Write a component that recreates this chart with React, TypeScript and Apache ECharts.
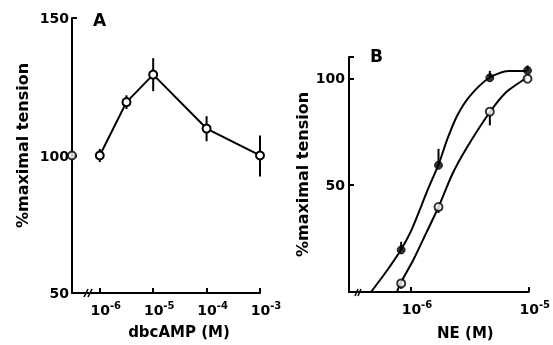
import React, { useEffect, useRef } from "react";
import * as echarts from "echarts";

// Panel A: dbcAMP, x = log10 concentration (M)
const aLogConc = [-6, -5.5, -5, -4, -3];
const aTension = [100, 119.4, 129.4, 109.8, 100];
const aErrUp = [2.4, 2.5, 6, 4.5, 7.3];
const aErrDown = [2.4, 2.5, 6, 4.6, 7.6];
const aControl = [[-6.52, 100]];

// Panel B: NE, x = log10 concentration (M)
const bLogConc = [-6.083, -5.766, -5.33, -5.01];
const bFilled = [19.7, 59.3, 100.3, 103.7];
const bFilledHi = [23.5, 67, 103.5, 106];
const bOpen = [4, 39.8, 84.4, 99.8];
const bOpenLo = [1.5, 37, 78, 99.8];

// fitted curves
const bFilledCurveX = [-6.339, -6.2, -6.086, -5.995, -5.857, -5.766, -5.692, -5.61, -5.5, -5.334, -5.17, -5.017];
const bFilledCurveY = [0, 10.3, 19.7, 29.1, 47.9, 59.6, 71.4, 82.3, 91.7, 100.3, 103.4, 103.4];
const bOpenCurveX = [-6.119, -6.09, -5.98, -5.898, -5.76, -5.65, -5.526, -5.334, -5.196, -5.017];
const bOpenCurveY = [0, 4, 15, 24.4, 40.5, 55, 67.5, 83.9, 93.3, 100.3];

const aTicks = [-6, -5, -4, -3];
const bTicks = [-6, -5];

const FONT = "DejaVu Sans";

const supLabel = (v: number) => `{b|10}{s|${Math.round(v)}}`;
const supRich = {
  b: { fontSize: 14, fontWeight: "bold", color: "#000", fontFamily: FONT },
  s: { fontSize: 10, fontWeight: "bold", color: "#000", fontFamily: FONT, padding: [0, 0, 9, 0] },
};

const errRender = (params: any, api: any) => {
  const x = api.value(0);
  const p1 = api.coord([x, api.value(1)]);
  const p2 = api.coord([x, api.value(2)]);
  return {
    type: "line",
    shape: { x1: p1[0], y1: p1[1], x2: p2[0], y2: p2[1] },
    style: { stroke: "#000", lineWidth: 2 },
  };
};

export default function App() {
  const ref = useRef<HTMLDivElement>(null);
  useEffect(() => {
    if (!ref.current) return;
    const chart = echarts.init(ref.current, null, { renderer: "svg" });
    const axisLine = { lineStyle: { color: "#000", width: 2 } };
    const nameStyle = { fontSize: 16, fontWeight: "bold", color: "#000", fontFamily: FONT };
    const tickLabel = { fontSize: 14, fontWeight: "bold", color: "#000", fontFamily: FONT };

    const aData = aLogConc.map((x, i) => [x, aTension[i]]);
    const aErr = aLogConc.map((x, i) => [x, aTension[i] - aErrDown[i], aTension[i] + aErrUp[i]]);
    const bFilledData = bLogConc.map((x, i) => [x, bFilled[i]]);
    const bOpenData = bLogConc.map((x, i) => [x, bOpen[i]]);
    const bErr = [
      ...bLogConc.map((x, i) => [x, bFilled[i], bFilledHi[i]]),
      ...bLogConc.map((x, i) => [x, bOpenLo[i], bOpen[i]]),
    ];

    chart.setOption({
      animation: false,
      textStyle: { fontFamily: FONT },
      grid: [
        { left: 72, right: 293, top: 18, bottom: 52 },
        { left: 349, right: 19, top: 57, bottom: 53 },
      ],
      xAxis: [
        {
          gridIndex: 0,
          type: "value",
          min: -6.52,
          max: -3,
          axisLine,
          splitLine: { show: false },
          axisTick: { inside: true, length: 5, customValues: aTicks, lineStyle: { color: "#000", width: 2 } },
          axisLabel: { customValues: aTicks, formatter: supLabel, rich: supRich, margin: 7, padding: [0, 0, 0, 12] },
          name: "dbcAMP (M)",
          nameLocation: "middle",
          nameGap: 31,
          nameTextStyle: { ...nameStyle, fontSize: 15, padding: [0, 0, 0, 26] },
        },
        {
          gridIndex: 1,
          type: "value",
          min: -6.526,
          max: -5,
          axisLine,
          splitLine: { show: false },
          axisTick: { inside: true, length: 5, customValues: bTicks, lineStyle: { color: "#000", width: 2 } },
          axisLabel: { customValues: bTicks, formatter: supLabel, rich: supRich, margin: 7, padding: [0, 0, 0, 12] },
          name: "NE (M)",
          nameLocation: "middle",
          nameGap: 33,
          nameTextStyle: { ...nameStyle, fontSize: 15, padding: [0, 0, 0, 53] },
        },
      ],
      yAxis: [
        {
          gridIndex: 0,
          type: "value",
          min: 50,
          max: 150,
          interval: 50,
          axisLine: { show: true, ...axisLine },
          splitLine: { show: false },
          axisTick: { show: true, inside: true, length: 5, lineStyle: { color: "#000", width: 2 } },
          axisLabel: { ...tickLabel, margin: 3 },
          name: "%maximal tension",
          nameLocation: "middle",
          nameGap: 42,
          nameTextStyle: { ...nameStyle, padding: [0, 0, 0, 20] },
        },
        {
          gridIndex: 1,
          type: "value",
          min: 0,
          max: 110,
          interval: 50,
          axisLine: { show: true, ...axisLine },
          splitLine: { show: false },
          axisTick: { show: true, inside: true, length: 5, customValues: [50, 100, 110], lineStyle: { color: "#000", width: 2 } },
          axisLabel: { ...tickLabel, margin: 4, customValues: [50, 100] },
          name: "%maximal tension",
          nameLocation: "middle",
          nameGap: 39,
          nameTextStyle: { ...nameStyle },
        },
      ],
      series: [
        {
          type: "custom",
          xAxisIndex: 0,
          yAxisIndex: 0,
          renderItem: errRender,
          data: aErr,
          encode: { x: 0, y: [1, 2] },
          z: 1,
        },
        {
          type: "line",
          xAxisIndex: 0,
          yAxisIndex: 0,
          data: aData,
          symbol: "circle",
          symbolSize: 8,
          lineStyle: { color: "#000", width: 2 },
          itemStyle: { color: "#fff", borderColor: "#000", borderWidth: 2 },
          z: 3,
        },
        {
          type: "scatter",
          xAxisIndex: 0,
          yAxisIndex: 0,
          data: aControl,
          symbol: "circle",
          symbolSize: 8,
          itemStyle: { color: "#fff", borderColor: "#000", borderWidth: 2 },
          z: 3,
        },
        {
          type: "line",
          xAxisIndex: 1,
          yAxisIndex: 1,
          data: bFilledCurveX.map((x, i) => [x, bFilledCurveY[i]]),
          smooth: 0.25,
          showSymbol: false,
          symbol: "none",
          lineStyle: { color: "#000", width: 2 },
          z: 2,
        },
        {
          type: "line",
          xAxisIndex: 1,
          yAxisIndex: 1,
          data: bOpenCurveX.map((x, i) => [x, bOpenCurveY[i]]),
          smooth: 0.25,
          showSymbol: false,
          symbol: "none",
          lineStyle: { color: "#000", width: 2 },
          z: 2,
        },
        {
          type: "custom",
          xAxisIndex: 1,
          yAxisIndex: 1,
          renderItem: errRender,
          data: bErr,
          encode: { x: 0, y: [1, 2] },
          z: 1,
        },
        {
          type: "scatter",
          xAxisIndex: 1,
          yAxisIndex: 1,
          data: bFilledData,
          symbol: "circle",
          symbolSize: 8,
          itemStyle: { color: "#000", borderColor: "#000", borderWidth: 1 },
          z: 3,
        },
        {
          type: "scatter",
          xAxisIndex: 1,
          yAxisIndex: 1,
          data: bOpenData,
          symbol: "circle",
          symbolSize: 8,
          itemStyle: { color: "#fff", borderColor: "#000", borderWidth: 2 },
          z: 3,
        },
      ],
      graphic: [
        { type: "text", left: 93, top: 11, style: { text: "A", fontSize: 17, fontWeight: "bold", fill: "#000", fontFamily: FONT } },
        { type: "text", left: 370, top: 47, style: { text: "B", fontSize: 17, fontWeight: "bold", fill: "#000", fontFamily: FONT } },
        { type: "line", shape: { x1: 84, y1: 297, x2: 88, y2: 289 }, style: { stroke: "#000", lineWidth: 1.5 } },
        { type: "line", shape: { x1: 88, y1: 297, x2: 92, y2: 289 }, style: { stroke: "#000", lineWidth: 1.5 } },
        { type: "line", shape: { x1: 355, y1: 296, x2: 358, y2: 289 }, style: { stroke: "#000", lineWidth: 1.5 } },
        { type: "line", shape: { x1: 358, y1: 296, x2: 361, y2: 289 }, style: { stroke: "#000", lineWidth: 1.5 } },
      ],
    });
    return () => chart.dispose();
  }, []);
  return <div ref={ref} style={{ position: "fixed", left: 0, top: 0, width: 553, height: 345 }} />;
}
